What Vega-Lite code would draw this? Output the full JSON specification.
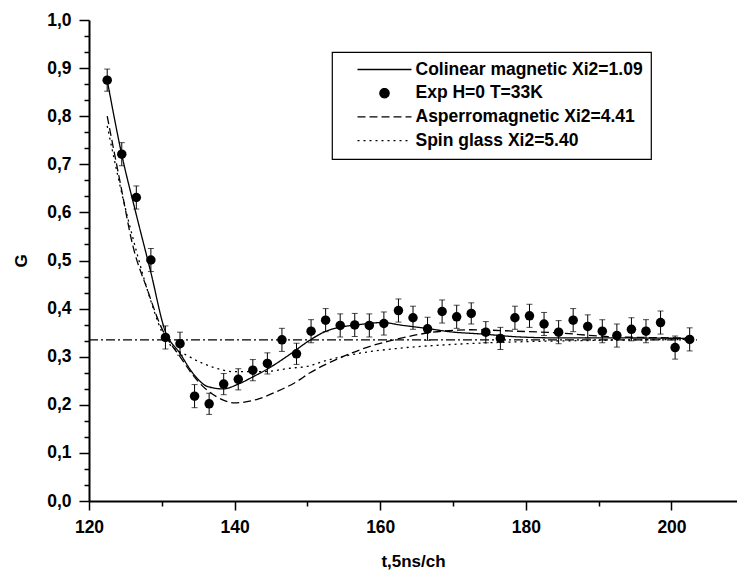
{
  "$schema": "https://vega.github.io/schema/vega-lite/v6.json",
  "width": 648,
  "height": 481,
  "autosize": "none",
  "padding": {"left": 89, "top": 20, "right": 0, "bottom": 72},
  "background": "white",
  "config": {"view": {"stroke": null}},
  "datasets": {
    "exp": [
      {"t": 122.5, "G": 0.875, "err": 0.023},
      {"t": 124.5, "G": 0.721, "err": 0.024},
      {"t": 126.5, "G": 0.631, "err": 0.024},
      {"t": 128.5, "G": 0.501, "err": 0.024},
      {"t": 130.5, "G": 0.340, "err": 0.024},
      {"t": 132.5, "G": 0.327, "err": 0.024},
      {"t": 134.5, "G": 0.218, "err": 0.024},
      {"t": 136.5, "G": 0.202, "err": 0.022},
      {"t": 138.5, "G": 0.243, "err": 0.022},
      {"t": 140.5, "G": 0.253, "err": 0.022},
      {"t": 142.5, "G": 0.272, "err": 0.022},
      {"t": 144.5, "G": 0.286, "err": 0.022},
      {"t": 146.5, "G": 0.335, "err": 0.024},
      {"t": 148.5, "G": 0.306, "err": 0.022},
      {"t": 150.5, "G": 0.353, "err": 0.024},
      {"t": 152.5, "G": 0.376, "err": 0.024},
      {"t": 154.5, "G": 0.365, "err": 0.024},
      {"t": 156.5, "G": 0.366, "err": 0.024},
      {"t": 158.5, "G": 0.365, "err": 0.024},
      {"t": 160.5, "G": 0.369, "err": 0.024},
      {"t": 162.5, "G": 0.396, "err": 0.024},
      {"t": 164.5, "G": 0.381, "err": 0.024},
      {"t": 166.5, "G": 0.358, "err": 0.024},
      {"t": 168.5, "G": 0.394, "err": 0.024},
      {"t": 170.5, "G": 0.383, "err": 0.024},
      {"t": 172.5, "G": 0.390, "err": 0.022},
      {"t": 174.5, "G": 0.351, "err": 0.022},
      {"t": 176.5, "G": 0.338, "err": 0.023},
      {"t": 178.5, "G": 0.381, "err": 0.024},
      {"t": 180.5, "G": 0.385, "err": 0.024},
      {"t": 182.5, "G": 0.368, "err": 0.024},
      {"t": 184.5, "G": 0.351, "err": 0.024},
      {"t": 186.5, "G": 0.376, "err": 0.024},
      {"t": 188.5, "G": 0.363, "err": 0.024},
      {"t": 190.5, "G": 0.353, "err": 0.024},
      {"t": 192.5, "G": 0.344, "err": 0.024},
      {"t": 194.5, "G": 0.357, "err": 0.024},
      {"t": 196.5, "G": 0.353, "err": 0.024},
      {"t": 198.5, "G": 0.371, "err": 0.024},
      {"t": 200.5, "G": 0.319, "err": 0.024},
      {"t": 202.5, "G": 0.336, "err": 0.024}
    ],
    "models": [
      {"series": "Colinear magnetic Xi2=1.09", "t": 122.5, "G": 0.875},
      {"series": "Colinear magnetic Xi2=1.09", "t": 124.5, "G": 0.72},
      {"series": "Colinear magnetic Xi2=1.09", "t": 126.5, "G": 0.595},
      {"series": "Colinear magnetic Xi2=1.09", "t": 128.5, "G": 0.475},
      {"series": "Colinear magnetic Xi2=1.09", "t": 130.4, "G": 0.356},
      {"series": "Colinear magnetic Xi2=1.09", "t": 132.5, "G": 0.307},
      {"series": "Colinear magnetic Xi2=1.09", "t": 134.3, "G": 0.265},
      {"series": "Colinear magnetic Xi2=1.09", "t": 136.3, "G": 0.238},
      {"series": "Colinear magnetic Xi2=1.09", "t": 138.4, "G": 0.233},
      {"series": "Colinear magnetic Xi2=1.09", "t": 140.5, "G": 0.243},
      {"series": "Colinear magnetic Xi2=1.09", "t": 142.5, "G": 0.258},
      {"series": "Colinear magnetic Xi2=1.09", "t": 144.8, "G": 0.277},
      {"series": "Colinear magnetic Xi2=1.09", "t": 147.6, "G": 0.305},
      {"series": "Colinear magnetic Xi2=1.09", "t": 150.3, "G": 0.334},
      {"series": "Colinear magnetic Xi2=1.09", "t": 152.4, "G": 0.352},
      {"series": "Colinear magnetic Xi2=1.09", "t": 154.4, "G": 0.361},
      {"series": "Colinear magnetic Xi2=1.09", "t": 156.7, "G": 0.366},
      {"series": "Colinear magnetic Xi2=1.09", "t": 160.4, "G": 0.371},
      {"series": "Colinear magnetic Xi2=1.09", "t": 162.7, "G": 0.366},
      {"series": "Colinear magnetic Xi2=1.09", "t": 166.3, "G": 0.359},
      {"series": "Colinear magnetic Xi2=1.09", "t": 169.5, "G": 0.352},
      {"series": "Colinear magnetic Xi2=1.09", "t": 174.1, "G": 0.347},
      {"series": "Colinear magnetic Xi2=1.09", "t": 179.2, "G": 0.341},
      {"series": "Colinear magnetic Xi2=1.09", "t": 185.0, "G": 0.339},
      {"series": "Colinear magnetic Xi2=1.09", "t": 192.0, "G": 0.339},
      {"series": "Colinear magnetic Xi2=1.09", "t": 202.5, "G": 0.338},
      {"series": "Asperromagnetic Xi2=4.41", "t": 122.5, "G": 0.80},
      {"series": "Asperromagnetic Xi2=4.41", "t": 124.4, "G": 0.653},
      {"series": "Asperromagnetic Xi2=4.41", "t": 126.0, "G": 0.532},
      {"series": "Asperromagnetic Xi2=4.41", "t": 128.0, "G": 0.44},
      {"series": "Asperromagnetic Xi2=4.41", "t": 129.9, "G": 0.362},
      {"series": "Asperromagnetic Xi2=4.41", "t": 132.5, "G": 0.300},
      {"series": "Asperromagnetic Xi2=4.41", "t": 135.2, "G": 0.245},
      {"series": "Asperromagnetic Xi2=4.41", "t": 137.5, "G": 0.217},
      {"series": "Asperromagnetic Xi2=4.41", "t": 140.0, "G": 0.204},
      {"series": "Asperromagnetic Xi2=4.41", "t": 143.0, "G": 0.211},
      {"series": "Asperromagnetic Xi2=4.41", "t": 145.7, "G": 0.227},
      {"series": "Asperromagnetic Xi2=4.41", "t": 148.5, "G": 0.248},
      {"series": "Asperromagnetic Xi2=4.41", "t": 150.3, "G": 0.266},
      {"series": "Asperromagnetic Xi2=4.41", "t": 154.4, "G": 0.297},
      {"series": "Asperromagnetic Xi2=4.41", "t": 158.5, "G": 0.321},
      {"series": "Asperromagnetic Xi2=4.41", "t": 162.7, "G": 0.338},
      {"series": "Asperromagnetic Xi2=4.41", "t": 166.8, "G": 0.350},
      {"series": "Asperromagnetic Xi2=4.41", "t": 172.3, "G": 0.356},
      {"series": "Asperromagnetic Xi2=4.41", "t": 178.7, "G": 0.353},
      {"series": "Asperromagnetic Xi2=4.41", "t": 185.0, "G": 0.349},
      {"series": "Asperromagnetic Xi2=4.41", "t": 190.0, "G": 0.343},
      {"series": "Asperromagnetic Xi2=4.41", "t": 196.0, "G": 0.340},
      {"series": "Asperromagnetic Xi2=4.41", "t": 202.5, "G": 0.339},
      {"series": "Spin glass  Xi2=5.40", "t": 122.5, "G": 0.78},
      {"series": "Spin glass  Xi2=5.40", "t": 124.5, "G": 0.64},
      {"series": "Spin glass  Xi2=5.40", "t": 126.5, "G": 0.52},
      {"series": "Spin glass  Xi2=5.40", "t": 128.3, "G": 0.425},
      {"series": "Spin glass  Xi2=5.40", "t": 130.6, "G": 0.335},
      {"series": "Spin glass  Xi2=5.40", "t": 133.8, "G": 0.300},
      {"series": "Spin glass  Xi2=5.40", "t": 137.5, "G": 0.276},
      {"series": "Spin glass  Xi2=5.40", "t": 139.8, "G": 0.269},
      {"series": "Spin glass  Xi2=5.40", "t": 143.9, "G": 0.269},
      {"series": "Spin glass  Xi2=5.40", "t": 147.6, "G": 0.276},
      {"series": "Spin glass  Xi2=5.40", "t": 150.3, "G": 0.281},
      {"series": "Spin glass  Xi2=5.40", "t": 152.1, "G": 0.290},
      {"series": "Spin glass  Xi2=5.40", "t": 156.7, "G": 0.306},
      {"series": "Spin glass  Xi2=5.40", "t": 162.2, "G": 0.317},
      {"series": "Spin glass  Xi2=5.40", "t": 168.2, "G": 0.324},
      {"series": "Spin glass  Xi2=5.40", "t": 175.0, "G": 0.329},
      {"series": "Spin glass  Xi2=5.40", "t": 179.2, "G": 0.331},
      {"series": "Spin glass  Xi2=5.40", "t": 190.0, "G": 0.334},
      {"series": "Spin glass  Xi2=5.40", "t": 202.5, "G": 0.336}
    ],
    "ref": [
      {"t": 120, "G": 0.335},
      {"t": 203.5, "G": 0.335}
    ]
  },
  "encoding": {
    "x": {
      "field": "t", "type": "quantitative",
      "scale": {"domain": [120, 209], "nice": false, "zero": false},
      "axis": {
        "title": "t,5ns/ch",
        "values": [120, 130, 140, 150, 160, 170, 180, 190, 200],
        "labelExpr": "datum.value % 20 == 0 ? datum.label : ''",
        "tickSize": {"condition": {"test": "datum.value % 20 == 0", "value": 9}, "value": 5},
        "grid": false,
        "domainColor": "black", "domainWidth": 2,
        "tickColor": "black", "tickWidth": 1.5,
        "labelFont": "Liberation Sans", "labelFontSize": 17.5, "labelFontWeight": "bold", "labelColor": "black",
        "labelPadding": 8, "labelFlush": false,
        "titleFont": "Liberation Sans", "titleFontSize": 17, "titleFontWeight": "bold", "titleColor": "black",
        "titlePadding": 18
      }
    },
    "y": {
      "field": "G", "type": "quantitative",
      "scale": {"domain": [0, 1], "nice": false},
      "axis": {
        "title": "G",
        "values": [0, 0.03333, 0.06667, 0.1, 0.13333, 0.16667, 0.2, 0.23333, 0.26667, 0.3, 0.33333, 0.36667, 0.4, 0.43333, 0.46667, 0.5, 0.53333, 0.56667, 0.6, 0.63333, 0.66667, 0.7, 0.73333, 0.76667, 0.8, 0.83333, 0.86667, 0.9, 0.93333, 0.96667, 1.0],
        "labelExpr": "abs(datum.value*10 - round(datum.value*10)) < 0.01 ? replace(format(datum.value, '.1f'), '.', ',') : ''",
        "tickSize": {"condition": {"test": "abs(datum.value*10 - round(datum.value*10)) < 0.01", "value": 10}, "value": 5},
        "grid": false,
        "domainColor": "black", "domainWidth": 2,
        "tickColor": "black", "tickWidth": 1.5,
        "labelFont": "Liberation Sans", "labelFontSize": 17.5, "labelFontWeight": "bold", "labelColor": "black",
        "labelPadding": 8, "labelFlush": false,
        "titleFont": "Liberation Sans", "titleFontSize": 17, "titleFontWeight": "bold", "titleColor": "black",
        "titlePadding": 16
      }
    }
  },
  "layer": [
    {
      "data": {"name": "ref"},
      "mark": {"type": "line", "color": "black", "strokeWidth": 1.2, "strokeDash": [9, 3, 2, 3]}
    },
    {
      "data": {"name": "models"},
      "mark": {"type": "line", "color": "black", "strokeWidth": 1.3, "interpolate": "monotone"},
      "encoding": {
        "strokeDash": {
          "field": "series", "type": "nominal",
          "scale": {
            "domain": ["Colinear magnetic Xi2=1.09", "Exp H=0 T=33K", "Asperromagnetic Xi2=4.41", "Spin glass  Xi2=5.40"],
            "range": [[1, 0], [1, 0], [8, 4], [2, 4]]
          },
          "legend": {
            "orient": "none", "legendX": 243, "legendY": 32,
            "title": null,
            "strokeColor": "black",
            "padding": 7.5,
            "symbolOffset": 17,
            "symbolType": "stroke",
            "symbolSize": 2916,
            "symbolStrokeWidth": 1.3,
            "symbolStrokeColor": "black",
            "labelFont": "Liberation Sans", "labelFontSize": 17.5, "labelFontWeight": "bold", "labelColor": "black",
            "labelOffset": 3, "labelLimit": 400,
            "clipHeight": 20, "rowPadding": 3.7,
            "encode": {
              "symbols": {
                "update": {
                  "shape": {"signal": "datum.value === 'Exp H=0 T=33K' ? 'circle' : 'stroke'"},
                  "size": {"signal": "datum.value === 'Exp H=0 T=33K' ? 85 : 2916"},
                  "fill": {"value": "black"},
                  "stroke": {"value": "black"}
                }
              },
              "legend": {"update": {"strokeWidth": {"value": 1.2}}}
            }
          }
        }
      }
    },
    {
      "data": {"name": "exp"},
      "mark": {"type": "errorbar", "color": "black", "thickness": 1, "ticks": {"size": 6, "color": "black"}},
      "encoding": {
        "yError": {"field": "err"}
      }
    },
    {
      "data": {"name": "exp"},
      "mark": {"type": "point", "filled": true, "color": "black", "opacity": 1, "size": 90, "shape": "circle"}
    }
  ]
}
